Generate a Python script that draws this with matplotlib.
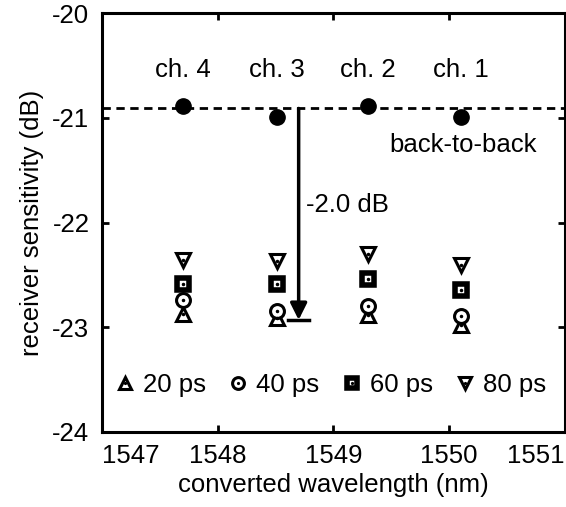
import numpy as np
from matplotlib import pyplot as plt
from matplotlib.legend_handler import HandlerTuple

plt.rcParams['font.family'] = ['Liberation Sans', 'DejaVu Sans']

# converted wavelength of each channel (nm)
channels = ["ch. 4", "ch. 3", "ch. 2", "ch. 1"]
wavelength = [1547.70, 1548.51, 1549.30, 1550.10]

# receiver sensitivity (dB)
back_to_back = [-20.89, -20.99, -20.89, -20.99]
back_to_back_level = -20.91
sens_20ps = [-22.87, -22.91, -22.88, -22.98]
sens_40ps = [-22.74, -22.84, -22.80, -22.89]
sens_60ps = [-22.59, -22.59, -22.54, -22.64]
sens_80ps = [-22.36, -22.37, -22.30, -22.41]

penalty_x = 1548.70
penalty_bottom = -22.93
xticks = [1547, 1548, 1549, 1550, 1551]
yticks = [-24, -23, -22, -21, -20]

FS = 18.5

fig = plt.figure(figsize=(5.66, 5.07), dpi=100)
ax = fig.add_axes([0.180, 0.148, 0.818, 0.826])

ax.axhline(back_to_back_level, color="k", ls=(0, (3, 2)), lw=2, zorder=1)
ax.plot(wavelength, back_to_back, "o", color="k", ms=11, zorder=3)

mk = dict(ls="none", mfc="white", mec="k", zorder=3)
h20 = ax.plot(wavelength, sens_20ps, "^", ms=10, mew=2.2, **mk)[0]
h40 = ax.plot(wavelength, sens_40ps, "o", ms=10, mew=2.2, **mk)[0]
h60 = ax.plot(wavelength, sens_60ps, "s", ms=9, mew=4, **mk)[0]
h80 = ax.plot(wavelength, sens_80ps, "v", ms=10, mew=2.2, **mk)[0]
dots = []
for s in [sens_20ps, sens_40ps, sens_60ps, sens_80ps]:
    dots.append(ax.plot(wavelength, s, ".", color="k", ms=3, zorder=4)[0])

# penalty arrow
ax.annotate("", xy=(penalty_x, penalty_bottom), xytext=(penalty_x, back_to_back_level),
            arrowprops=dict(arrowstyle="-|>", color="k", lw=2.5,
                            mutation_scale=25, shrinkA=0, shrinkB=0))
ax.plot([penalty_x - 0.09, penalty_x + 0.09], [penalty_bottom, penalty_bottom],
        color="k", lw=2.5)
ax.text(penalty_x + 0.06, -21.83, "-2.0 dB", fontsize=FS, va="center")

for x, name in zip(wavelength, channels):
    ax.text(x, -20.54, name, fontsize=FS, ha="center", va="center")
ax.text(1550.12, -21.26, "back-to-back", fontsize=FS, ha="center", va="center")

leg = ax.legend([(h20, dots[0]), (h40, dots[1]), (h60, dots[2]), (h80, dots[3])],
                ["20 ps", "40 ps", "60 ps", "80 ps"],
                handler_map={tuple: HandlerTuple(ndivide=1, pad=0)},
                loc="lower center", bbox_to_anchor=(0.495, 0.06), ncol=4,
                frameon=False, fontsize=FS, handlelength=0.7,
                handletextpad=0.35, columnspacing=0.9, borderaxespad=0,
                markerscale=0.85)

ax.set_xlim(1547, 1551)
ax.set_ylim(-24, -20)
ax.set_xticks(xticks)
ax.set_yticks(yticks)
ax.set_xticklabels([str(t) for t in xticks])
ax.set_yticklabels([str(t) for t in yticks])
labs = ax.get_xticklabels()
labs[0].set_ha("left")
labs[-1].set_ha("right")
ax.tick_params(direction="in", top=True, right=True, length=5, width=2,
               labelsize=FS, pad=9)
for sp in ax.spines.values():
    sp.set_linewidth(2.2)

ax.set_xlabel("converted wavelength (nm)", fontsize=FS, labelpad=3)
ax.set_ylabel("receiver sensitivity (dB)", fontsize=FS, labelpad=6)

fig.savefig("out.png", dpi=100)
